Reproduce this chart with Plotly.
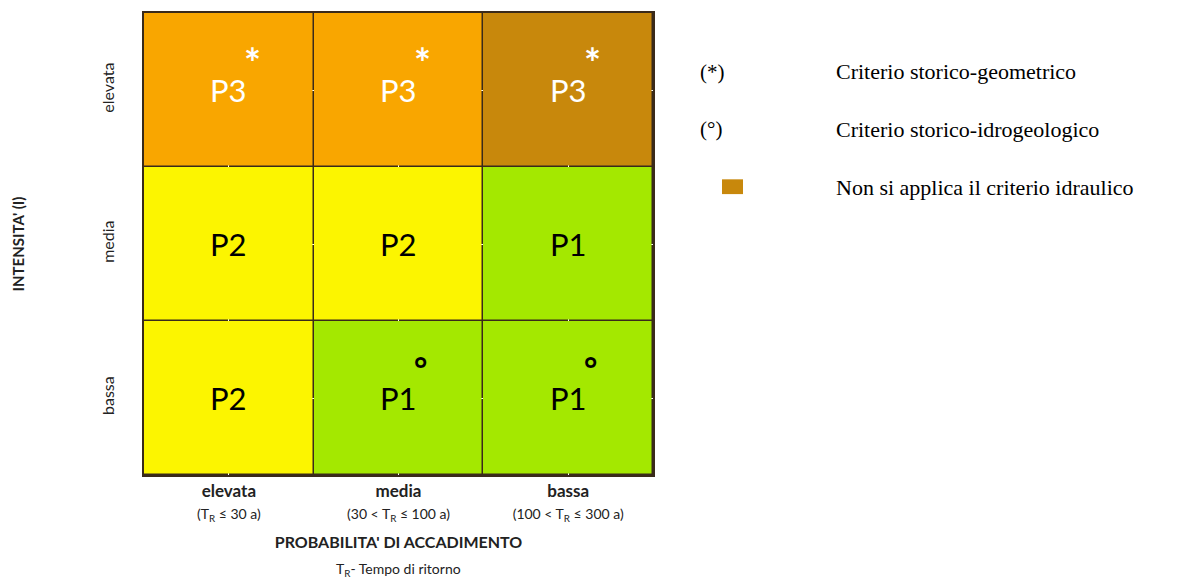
import plotly.graph_objects as go

# probabilita' (columns) and intensita' (rows, bottom -> top)
prob_levels = ["elevata", "media", "bassa"]
prob_ticks = [
    "<b>elevata</b><br><span style='font-size:14px'>(T<sub>R</sub> ≤ 30 a)</span>",
    "<b>media</b><br><span style='font-size:14px'>(30 < T<sub>R</sub> ≤ 100 a)</span>",
    "<b>bassa</b><br><span style='font-size:14px'>(100 < T<sub>R</sub> ≤ 300 a)</span>",
]
int_levels = ["bassa", "media", "elevata"]

# class code per cell: 1=P1, 2=P2, 3=P3, 4=P3 (no hydraulic criterion)
codes = [
    [2, 1, 1],
    [2, 2, 1],
    [3, 3, 4],
]
labels = [
    ["P2", "P1", "P1"],
    ["P2", "P2", "P1"],
    ["P3", "P3", "P3"],
]
marks = [
    ["", "°", "°"],
    ["", "", ""],
    ["*", "*", "*"],
]

class_colors = {1: "#A4E800", 2: "#FCF500", 3: "#F9A600", 4: "#C8880C"}

legend_items = [
    ("(*)", "Criterio storico-geometrico"),
    ("(°)", "Criterio storico-idrogeologico"),
    ("", "Non si applica il criterio idraulico"),
]

colorscale = []
for k in range(1, 5):
    colorscale.append([(k - 1) / 4, class_colors[k]])
    colorscale.append([k / 4, class_colors[k]])

fig = go.Figure()

fig.add_trace(
    go.Heatmap(
        z=codes,
        x=prob_levels,
        y=int_levels,
        zmin=0.5,
        zmax=4.5,
        colorscale=colorscale,
        showscale=False,
        xgap=1.5,
        ygap=1.5,
        hoverinfo="skip",
    )
)

# cell labels
for i, row in enumerate(labels):
    for j, txt in enumerate(row):
        col = "white" if codes[i][j] >= 3 else "black"
        fig.add_annotation(
            x=prob_levels[j], y=int_levels[i], text=txt,
            showarrow=False, font=dict(family="Lato", size=31, color=col),
        )
        m = marks[i][j]
        if m == "*":
            fig.add_annotation(
                x=prob_levels[j], y=int_levels[i], text="<b>*</b>",
                showarrow=False, xshift=24, yshift=27,
                font=dict(family="Lato", size=40, color=col),
            )
        elif m:
            fig.add_annotation(
                x=prob_levels[j], y=int_levels[i], text="<b>°</b>",
                showarrow=False, xshift=22, yshift=30,
                font=dict(family="Lato", size=32, color=col),
            )

# legend on the right
for k, (sym, desc) in enumerate(legend_items):
    yy = 0.873 - k * 0.125
    if sym:
        fig.add_annotation(
            xref="paper", yref="paper", x=1.088, y=yy, text=sym,
            xanchor="left", yanchor="middle", showarrow=False,
            font=dict(family="Liberation Serif", size=21, color="black"),
        )
    fig.add_annotation(
        xref="paper", yref="paper", x=1.356, y=yy, text=desc,
        xanchor="left", yanchor="middle", showarrow=False,
        font=dict(family="Liberation Serif", size=22, color="black"),
    )

fig.add_shape(
    type="rect", xref="paper", yref="paper",
    x0=1.1356, x1=1.1768, y0=0.608, y1=0.640,
    fillcolor=class_colors[4], line=dict(width=0),
)

# subtitle under the x axis title
fig.add_annotation(
    xref="paper", yref="paper", x=0.5, y=-0.205,
    text="T<sub>R</sub>- Tempo di ritorno",
    xanchor="center", yanchor="middle", showarrow=False,
    font=dict(family="Lato", size=14, color="#222"),
)

fig.update_xaxes(
    tickvals=prob_levels, ticktext=prob_ticks,
    tickfont=dict(family="Lato", size=17, color="#222"),
    showline=True, mirror=True, linecolor="#3a2a1a", linewidth=1.5,
    ticks="", title=dict(
        text="<b>PROBABILITA' DI ACCADIMENTO</b>",
        font=dict(family="Lato", size=16, color="#222"), standoff=14,
    ),
)
fig.update_yaxes(
    tickangle=-90,
    tickfont=dict(family="Lato", size=16, color="#222"),
    showline=True, mirror=True, linecolor="#3a2a1a", linewidth=1.5,
    ticks="", ticklabelstandoff=22,
    title=dict(text="<b>INTENSITA' (I)</b>",
               font=dict(family="Lato", size=15, color="#222"), standoff=70),
)

fig.update_layout(
    width=1175,
    height=577,
    margin=dict(l=136, r=530, t=3, b=110),
    plot_bgcolor="#3a2a1a",
    paper_bgcolor="white",
)

fig.write_html("out.html")
